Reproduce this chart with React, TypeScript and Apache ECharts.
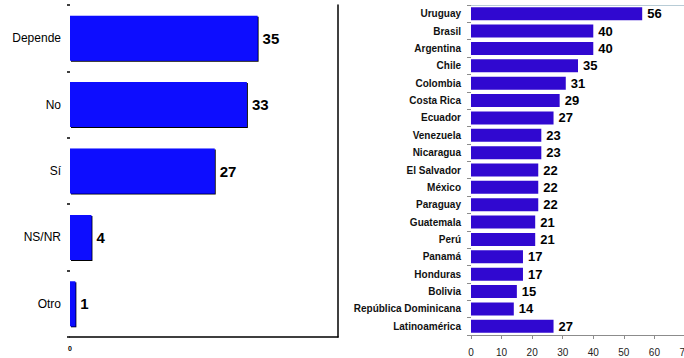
import React, { useEffect, useRef } from "react";
import * as echarts from "echarts";

const leftCategories = ["Depende", "No", "Sí", "NS/NR", "Otro"];
const leftValues = [35, 33, 27, 4, 1];

const rightCategories = [
  "Uruguay", "Brasil", "Argentina", "Chile", "Colombia", "Costa Rica", "Ecuador",
  "Venezuela", "Nicaragua", "El Salvador", "México", "Paraguay", "Guatemala", "Perú",
  "Panamá", "Honduras", "Bolivia", "República Dominicana", "Latinoamérica",
];
const rightValues = [56, 40, 40, 35, 31, 29, 27, 23, 23, 22, 22, 22, 21, 21, 17, 17, 15, 14, 27];

const FONT = "'Liberation Sans', Arial, sans-serif";

export default function App() {
  const ref = useRef<HTMLDivElement>(null);
  useEffect(() => {
    if (!ref.current) return;
    const chart = echarts.init(ref.current, null, { renderer: "svg" });
    chart.setOption({
      animation: false,
      backgroundColor: "#ffffff",
      textStyle: { fontFamily: FONT },
      grid: [
        { left: 70, right: 346, top: 5, bottom: 21, containLabel: false, outerBoundsMode: "none" },
        { left: 471, right: -1, top: 5, bottom: 23, containLabel: false, outerBoundsMode: "none" },
      ],
      xAxis: [
        {
          gridIndex: 0, type: "value", min: 0, max: 50, interval: 50,
          axisLine: { show: true, lineStyle: { color: "#000", width: 1.5 } },
          axisTick: { show: false },
          splitLine: { show: false },
          axisLabel: {
            margin: 8, fontSize: 7, fontWeight: "bold", color: "#000", fontFamily: FONT,
            formatter: (v: number) => (v === 0 ? "0" : ""),
          },
        },
        {
          gridIndex: 1, type: "value", min: 0, max: 70, interval: 10,
          axisLine: { show: true, lineStyle: { color: "#8c8c8c", width: 1 } },
          axisTick: { show: true, length: 4, lineStyle: { color: "#8c8c8c" } },
          splitLine: { show: false },
          axisLabel: { margin: 12, fontSize: 10, color: "#222", fontFamily: FONT },
        },
        {
          gridIndex: 1, type: "value", min: 0, max: 70, position: "top",
          axisLine: { show: true, lineStyle: { color: "#b8ccd6", width: 1 } },
          axisTick: { show: false }, axisLabel: { show: false }, splitLine: { show: false },
        },
      ],
      yAxis: [
        {
          gridIndex: 0, type: "category", data: leftCategories, inverse: true,
          axisLine: { show: false },
          axisTick: { show: true, length: 3, lineStyle: { color: "#000", width: 1.5 } },
          axisLabel: { margin: 9, fontSize: 12, color: "#000", fontFamily: FONT },
        },
        {
          gridIndex: 0, type: "category", data: leftCategories, inverse: true, position: "right",
          axisLine: { show: true, lineStyle: { color: "#000", width: 1.5 } },
          axisTick: { show: false }, axisLabel: { show: false },
        },
        {
          gridIndex: 1, type: "category", data: rightCategories, inverse: true,
          axisLine: { show: false },
          axisTick: { show: true, length: 4, lineStyle: { color: "#8c8c8c", width: 1 } },
          axisLabel: { margin: 10, fontSize: 10, fontWeight: "bold", color: "#111", fontFamily: FONT },
        },
      ],
      series: [
        {
          type: "bar", xAxisIndex: 0, yAxisIndex: 0, data: leftValues,
          barWidth: 45,
          itemStyle: {
            color: "#0a0aff",
            shadowColor: "#000", shadowOffsetX: 1, shadowOffsetY: 1, shadowBlur: 0,
          },
          label: {
            show: true, position: "right", distance: 5,
            fontSize: 15, fontWeight: "bold", color: "#000", fontFamily: FONT,
          },
        },
        {
          type: "bar", xAxisIndex: 1, yAxisIndex: 2, data: rightValues,
          barWidth: 13,
          itemStyle: { color: "#3008d0" },
          label: {
            show: true, position: "right", distance: 5,
            fontSize: 13, fontWeight: "bold", color: "#000", fontFamily: FONT,
          },
        },
      ],
    });
    return () => chart.dispose();
  }, []);
  return (
    <div
      ref={ref}
      style={{ position: "absolute", left: 0, top: 0, width: 684, height: 358 }}
    />
  );
}
